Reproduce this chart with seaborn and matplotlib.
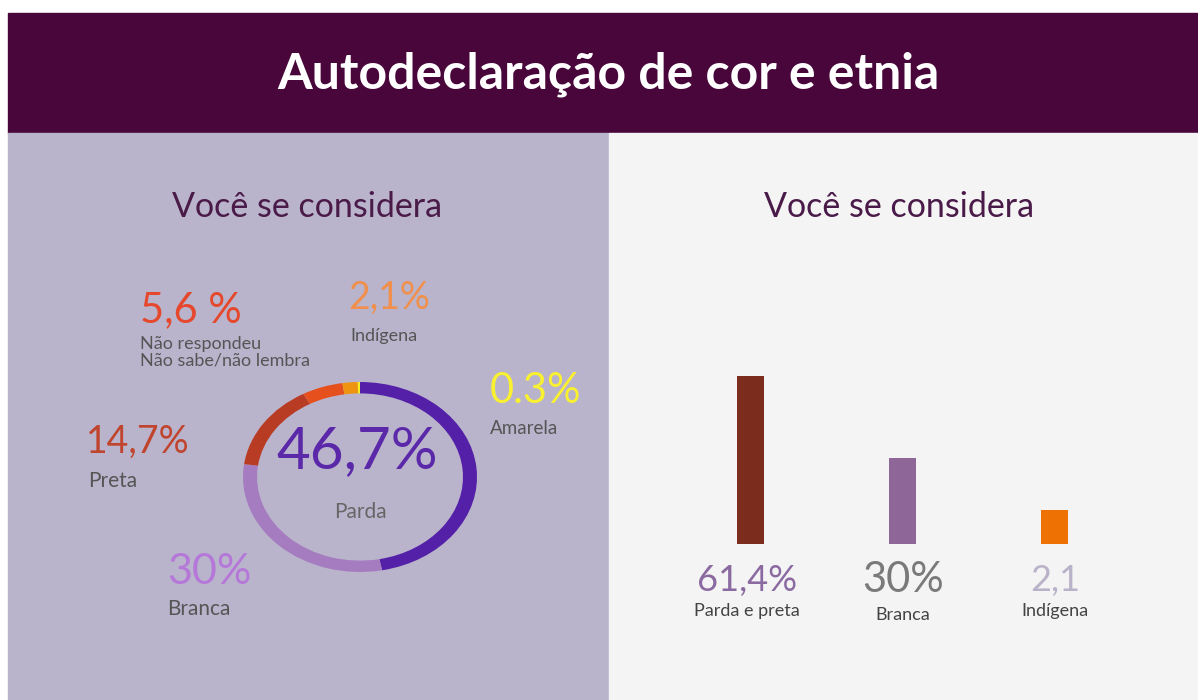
import matplotlib
matplotlib.use("Agg")
import matplotlib.pyplot as plt
from matplotlib.patches import Rectangle
import pandas as pd
import seaborn as sns

# Dados - rosca (Você se considera)
categorias_rosca = ["Parda", "Branca", "Preta", "Não respondeu / Não sabe/não lembra", "Indígena", "Amarela"]
valores_rosca = [46.7, 30.0, 14.7, 5.6, 2.1, 0.3]
cores_rosca = ["#5520a8", "#a67cc0", "#b83c24", "#e5501c", "#ef9410", "#f8f020"]

# Dados - barras (alturas) e rótulos
categorias_barras = ["Parda e preta", "Branca", "Indígena"]
alturas_barras = [61.4, 31.4, 12.4]
rotulos_barras = ["61,4%", "30%", "2,1"]
cores_barras = ["#7b2c1c", "#8e6698", "#ee7203"]

W, H = 1198, 700

sns.set_style("white")
plt.rcParams["font.family"] = ["Lato", "DejaVu Sans"]

fig = plt.figure(figsize=(W / 100, H / 100), dpi=100)
fig.patch.set_facecolor("white")


def fx(x):
    return x / W


def fy(y):
    return 1 - y / H


# Fundos
fig.patches.append(Rectangle((fx(8), fy(133)), 1 - fx(8), fy(13) - fy(133),
                             transform=fig.transFigure, color="#48063a", zorder=-5))
fig.patches.append(Rectangle((fx(8), 0), fx(609) - fx(8), fy(133),
                             transform=fig.transFigure, color="#b9b4cc", zorder=-5))
fig.patches.append(Rectangle((fx(609), 0), 1 - fx(609), fy(133),
                             transform=fig.transFigure, color="#f4f4f4", zorder=-5))

# Título
fig.text(fx(608), fy(74), "Autodeclaração de cor e etnia", color="white",
         fontsize=36, fontweight="bold", ha="center", va="center")
fig.text(fx(307), fy(207), "Você se considera", color="#4a1a48",
         fontsize=24.5, ha="center", va="center")
fig.text(fx(899), fy(207), "Você se considera", color="#4a1a48",
         fontsize=24.5, ha="center", va="center")

# Rosca (elipse)
cx, cy, rx, ry = 360, 477, 117, 95
ax_pie = fig.add_axes([fx(cx - rx), fy(cy + ry), 2 * rx / W, 2 * ry / H])
ax_pie.pie(valores_rosca, colors=cores_rosca, startangle=90, counterclock=False,
           wedgeprops=dict(width=0.12, linewidth=0))
ax_pie.set_aspect("auto")
ax_pie.set_xlim(-1, 1)
ax_pie.set_ylim(-1, 1)
ax_pie.axis("off")

# Rótulos da rosca
fig.text(fx(357), fy(452), "46,7%", color="#5a28a8", fontsize=42,
         ha="center", va="center")
fig.text(fx(360), fy(512), "Parda", color="#666666", fontsize=15,
         ha="center", va="center")

fig.text(fx(140), fy(310), "5,6 %", color="#e5482c", fontsize=30,
         ha="left", va="center")
fig.text(fx(140), fy(352), "Não respondeu\nNão sabe/não lembra", color="#555555",
         fontsize=13, ha="left", va="center", linespacing=1.0)

fig.text(fx(348), fy(298), "2,1%", color="#f0904c", fontsize=27,
         ha="left", va="center")
fig.text(fx(350), fy(336), "Indígena", color="#555555", fontsize=13,
         ha="left", va="center")

fig.text(fx(490), fy(391), "0.3%", color="#f8f030", fontsize=30,
         ha="left", va="center")
fig.text(fx(490), fy(428), "Amarela", color="#555555", fontsize=13.5,
         ha="left", va="center")

fig.text(fx(86), fy(442), "14,7%", color="#c0452e", fontsize=27,
         ha="left", va="center")
fig.text(fx(88), fy(481), "Preta", color="#555555", fontsize=15,
         ha="left", va="center")

fig.text(fx(167), fy(572), "30%", color="#b678d8", fontsize=31,
         ha="left", va="center")
fig.text(fx(167), fy(609), "Branca", color="#555555", fontsize=15,
         ha="left", va="center")

# Barras
ax_bar = fig.add_axes([fx(674), fy(544), fx(1131) - fx(674), (544 - 376) / H])
df = pd.DataFrame({"categoria": categorias_barras, "valor": alturas_barras})
sns.barplot(data=df, x="categoria", y="valor", hue="categoria",
            palette=cores_barras, legend=False, width=0.177, saturation=1,
            linewidth=0, ax=ax_bar)
ax_bar.set_xlim(-0.5, 2.5)
ax_bar.set_ylim(0, max(alturas_barras))
ax_bar.axis("off")

cores_rotulos = ["#8a6aa0", "#7a7a7a", "#bab2c8"]
tam_rotulos = [26, 30, 26]
x_rotulos = [747, 903, 1055]
y_cat = [611, 615, 611]
for rot, cat, cor, tam, xr, yc in zip(rotulos_barras, categorias_barras, cores_rotulos,
                                      tam_rotulos, x_rotulos, y_cat):
    fig.text(fx(xr), fy(580), rot, color=cor, fontsize=tam,
             ha="center", va="center")
    fig.text(fx(xr), fy(yc), cat, color="#444444", fontsize=13,
             ha="center", va="center")

fig.savefig("out.png", dpi=100)
